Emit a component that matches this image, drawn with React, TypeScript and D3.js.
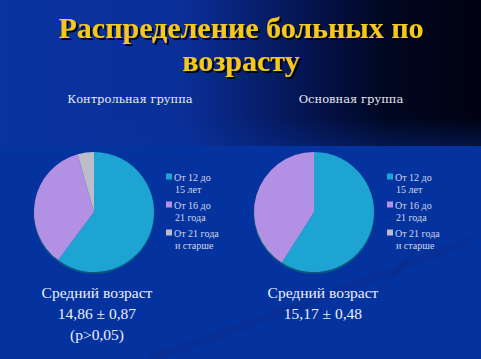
import React from "react";
import * as d3 from "d3";

const categories = ["От 12 до|15 лет", "От 16 до|21 года", "От 21 года|и старше"];
const colors = ["#1ea4d2", "#b290e4", "#bcbcca"];
const controlValues = [60.2, 35.4, 4.4];
const mainValues = [59, 41, 0];
const groupTitles = ["Контрольная группа", "Основная группа"];
const statLines = [
  ["Средний возраст", "14,86 ± 0,87", "(p>0,05)"],
  ["Средний возраст", "15,17 ± 0,48"],
];

const W = 481, H = 359;

function Pie({ cx, cy, r, values }: { cx: number; cy: number; r: number; values: number[] }) {
  const pie = d3.pie<number>().sort(null).value((d) => d);
  const arc = d3.arc<d3.PieArcDatum<number>>().innerRadius(0).outerRadius(r);
  const arcs = pie(values);
  return (
    <g transform={`translate(${cx},${cy})`}>
      <ellipse cx={0} cy={1.5} rx={r + 0.5} ry={r + 0.5} fill="#0b5d7a" opacity={0.8} />
      {arcs.map((a, i) =>
        a.endAngle - a.startAngle > 0 ? <path key={i} d={arc(a) || ""} fill={colors[i]} /> : null
      )}
    </g>
  );
}

function Legend({ x, y }: { x: number; y: number }) {
  return (
    <g>
      {categories.map((c, i) => {
        const lines = c.split("|");
        const yy = y + i * 28;
        return (
          <g key={i}>
            <rect x={x} y={yy - 3.5} width={6} height={6} fill={colors[i]} />
            <text x={x + 8} y={yy + 3.5} fontSize={10} fill="#d4d6e6" fontFamily="'Liberation Serif', serif">
              {lines[0]}
            </text>
            <text x={x + 9} y={yy + 15.5} fontSize={10} fill="#d4d6e6" fontFamily="'Liberation Serif', serif">
              {lines[1]}
            </text>
          </g>
        );
      })}
    </g>
  );
}

export default function App() {
  return (
    <svg width={W} height={H} style={{ position: "absolute", left: 0, top: 0 }}>
      <defs>
        <linearGradient id="hdr" x1="0" y1="0" x2="1" y2="0">
          <stop offset="0" stopColor="#0a33a0" />
          <stop offset="0.38" stopColor="#0a2f98" />
          <stop offset="0.62" stopColor="#041655" />
          <stop offset="0.8" stopColor="#010722" />
          <stop offset="1" stopColor="#000210" />
        </linearGradient>
        <linearGradient id="hdrFade" x1="0" y1="0" x2="0" y2="1">
          <stop offset="0" stopColor="#0a33a0" stopOpacity={0} />
          <stop offset="0.8" stopColor="#0a33a0" stopOpacity={0} />
          <stop offset="1" stopColor="#0a33a0" stopOpacity={0.35} />
        </linearGradient>
        <filter id="sh" x="-10%" y="-10%" width="120%" height="130%">
          <feDropShadow dx={2} dy={2} stdDeviation={0.6} floodColor="#000" floodOpacity={0.9} />
        </filter>
      </defs>
      <rect x={0} y={0} width={W} height={H} fill="#0433a0" />
      <rect x={0} y={0} width={W} height={146} fill="url(#hdr)" />
      <rect x={0} y={0} width={W} height={146} fill="url(#hdrFade)" />
      <path d="M 150 359 Q 320 300 470 240" stroke="#0a2b8c" strokeWidth={8} fill="none" opacity={0.5} />
      <path d="M 380 290 Q 400 270 420 240" stroke="#0a2b8c" strokeWidth={5} fill="none" opacity={0.4} />

      <g fontFamily="'Liberation Serif', serif" fontWeight="bold" fontSize={30} fill="#f6c81c" textAnchor="middle" filter="url(#sh)">
        <text x={241} y={38}>Распределение больных по</text>
        <text x={241} y={71}>возрасту</text>
      </g>

      <g fontFamily="'DejaVu Serif', serif" fontSize={11.5} fill="#e8eaf4" textAnchor="middle">
        <text x={130} y={103}>{groupTitles[0]}</text>
        <text x={351} y={103}>{groupTitles[1]}</text>
      </g>

      <Pie cx={94} cy={212} r={60} values={controlValues} />
      <Pie cx={314} cy={212} r={60} values={mainValues} />
      <Legend x={166} y={177} />
      <Legend x={387} y={177} />

      <g fontFamily="'Liberation Serif', serif" fontSize={15.5} fill="#eef0f8" textAnchor="middle">
        {statLines[0].map((s, i) => (
          <text key={i} x={97} y={298 + i * 21}>{s}</text>
        ))}
        {statLines[1].map((s, i) => (
          <text key={i} x={323} y={298 + i * 21}>{s}</text>
        ))}
      </g>
    </svg>
  );
}
